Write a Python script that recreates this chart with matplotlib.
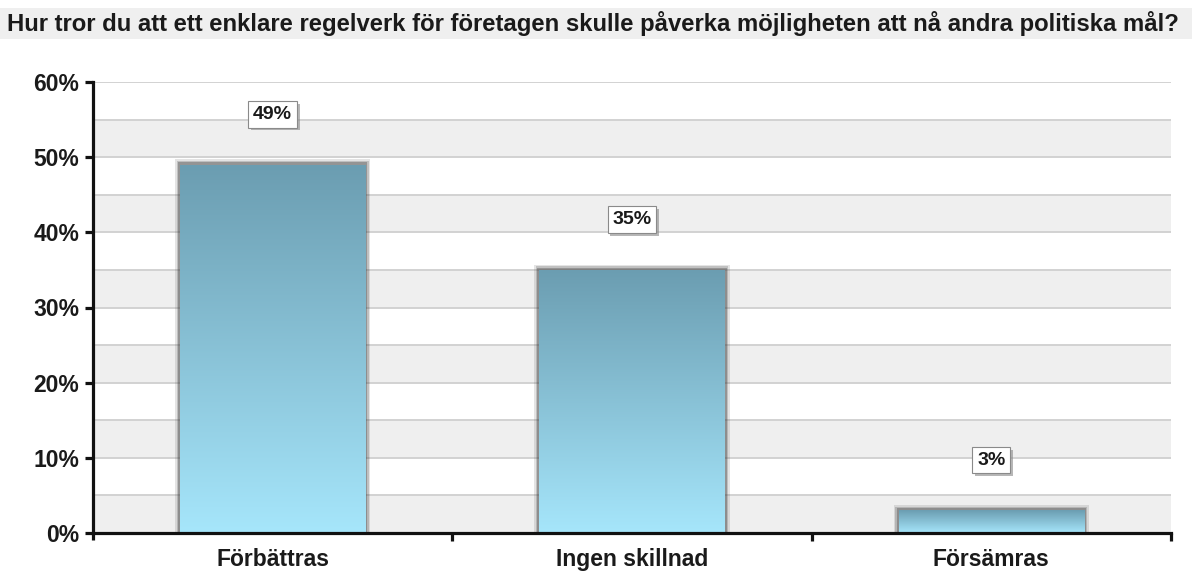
import matplotlib
matplotlib.use("Agg")
import matplotlib.pyplot as plt
import numpy as np
from matplotlib.patches import Rectangle
from matplotlib.colors import LinearSegmentedColormap
import matplotlib.patheffects as pe

title = "Hur tror du att ett enklare regelverk för företagen skulle påverka möjligheten att nå andra politiska mål?"
categories = ["Förbättras", "Ingen skillnad", "Försämras"]
values = [49, 35, 3]
yticks = [0, 10, 20, 30, 40, 50, 60]
ytick_labels = ["0%", "10%", "20%", "30%", "40%", "50%", "60%"]

plt.rcParams['font.family'] = ['Liberation Sans', 'DejaVu Sans']

W, H = 1198, 574
fig = plt.figure(figsize=(W / 100, H / 100), dpi=100)

# title bar
fig.patches.append(Rectangle((0, 1 - 39 / H), 1192 / W, 31 / H, transform=fig.transFigure,
                             facecolor="#efefef", edgecolor="none", zorder=0))
fig.text(7 / W, 1 - 23 / H, title, fontsize=17.2, fontweight="bold", color="#1a1a1a",
         va="center", ha="left")

ax = fig.add_axes([93 / W, 41 / H, (1171 - 93) / W, (533 - 82) / H])
ax.set_xlim(-0.5, 2.5)
ax.set_ylim(0, 60)

# alternating bands
for y0 in range(0, 60, 10):
    ax.axhspan(y0, y0 + 5, facecolor="#efefef", edgecolor="none", zorder=0)
for y in range(5, 61, 5):
    ax.axhline(y, color="#d2d2d2", lw=1.4, zorder=1)

cmap = LinearSegmentedColormap.from_list("g", ["#a6e6fb", "#6b9db1"])
bw = 0.515
x = np.arange(len(categories))
for xi, v in zip(x, values):
    # shadow
    for k, a in enumerate([0.14, 0.22, 0.34]):
        d = 0.014 - k * 0.004
        dy = 0.7 - k * 0.2
        ax.add_patch(Rectangle((xi - bw / 2 - d, 0), bw + 2 * d, v + dy,
                               facecolor="#404040", edgecolor="none", alpha=a, zorder=2))
    rect = Rectangle((xi - bw / 2, 0), bw, v, facecolor="none", edgecolor="none", zorder=3)
    ax.add_patch(rect)
    grad = np.linspace(0, 1, 256).reshape(-1, 1)
    im = ax.imshow(grad, cmap=cmap, aspect="auto", origin="lower",
                   extent=(xi - bw / 2, xi + bw / 2, 0, v), zorder=3)
    im.set_clip_path(rect)
    # value label box
    ly = v + 6.7
    t = ax.text(xi, ly, f"{v}%", ha="center", va="center", fontsize=14, fontweight="bold",
                color="#1a1a1a",
                bbox=dict(boxstyle="square,pad=0.25", facecolor="white", edgecolor="#8a8a8a", lw=0.8),
                zorder=5)
    t.get_bbox_patch().set_path_effects([
        pe.SimplePatchShadow(offset=(2, -2), shadow_rgbFace="#888888", alpha=0.6),
        pe.Normal()])

ax.set_xlim(-0.5, 2.5)
ax.set_ylim(0, 60)

for s in ["top", "right"]:
    ax.spines[s].set_visible(False)
for s in ["left", "bottom"]:
    ax.spines[s].set_linewidth(2.3)
    ax.spines[s].set_color("#111111")
    ax.spines[s].set_zorder(6)

ax.set_yticks(yticks)
ax.set_yticklabels(ytick_labels, fontsize=16.5, fontweight="bold", color="#1a1a1a")
ax.tick_params(axis="y", length=6, width=2.3, color="#111111", pad=4)

ax.set_xticks([0.5, 1.5, 2.5])
ax.set_xticklabels([])
ax.tick_params(axis="x", length=6, width=2.3, color="#111111")
for xi, c in zip(x, categories):
    ax.text(xi, -2.0, c, ha="center", va="top", fontsize=16.5, fontweight="bold",
            color="#1a1a1a", transform=ax.transData, clip_on=False)

# y axis extends slightly below the x axis
ax.plot([-0.5, -0.5], [0, -0.9], color="#111111", lw=2.3, clip_on=False, zorder=6,
        solid_capstyle="butt")

fig.savefig("out.png", dpi=100)
